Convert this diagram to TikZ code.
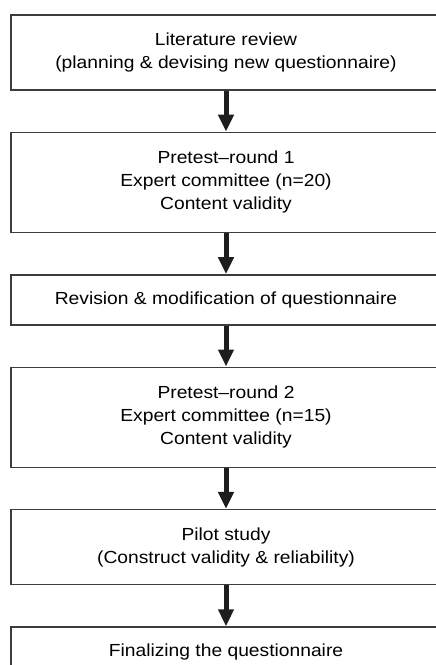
\documentclass[tikz,border=0pt]{standalone}
\usepackage{fontspec}
\setmainfont{Liberation Sans}
\newfontfamily\stagefont[Ligatures=TeX,FakeStretch=1.1]{Liberation Sans}
\usetikzlibrary{arrows.meta,positioning}
\definecolor{boxLine}{HTML}{3C3C3C}
\definecolor{arrowInk}{HTML}{1E1E1E}

\begin{document}
\begin{tikzpicture}[x=1pt,y=1pt,
    stage/.style={draw=boxLine,line width=1.4pt,minimum width=430pt,align=center,
      inner sep=0pt,font=\stagefont\fontsize{17.5}{23}\selectfont},
    flow/.style={draw=arrowInk,line width=5pt,-{Triangle[width=15pt,length=17pt]}}]
  \useasboundingbox (0,0) rectangle (436,-665);
  \node[stage,minimum height=75pt] (lit) at (226,-52.5)
    {Literature review\\(planning \& devising new questionnaire)};
  \node[stage,minimum height=100pt,below=41pt of lit] (round1)
    {Pretest--round 1\\Expert committee (n=20)\\Content validity};
  \node[stage,minimum height=50pt,below=41pt of round1] (revise)
    {Revision \& modification of questionnaire};
  \node[stage,minimum height=100pt,below=41pt of revise] (round2)
    {Pretest--round 2\\Expert committee (n=15)\\Content validity};
  \node[stage,minimum height=75pt,below=41pt of round2] (pilot)
    {Pilot study\\(Construct validity \& reliability)};
  \node[stage,minimum height=50pt,below=41pt of pilot] (final)
    {Finalizing the questionnaire};

  \draw[flow] (lit) -- (round1);
  \draw[flow] (round1) -- (revise);
  \draw[flow] (revise) -- (round2);
  \draw[flow] (round2) -- (pilot);
  \draw[flow] (pilot) -- (final);
\end{tikzpicture}
\end{document}
